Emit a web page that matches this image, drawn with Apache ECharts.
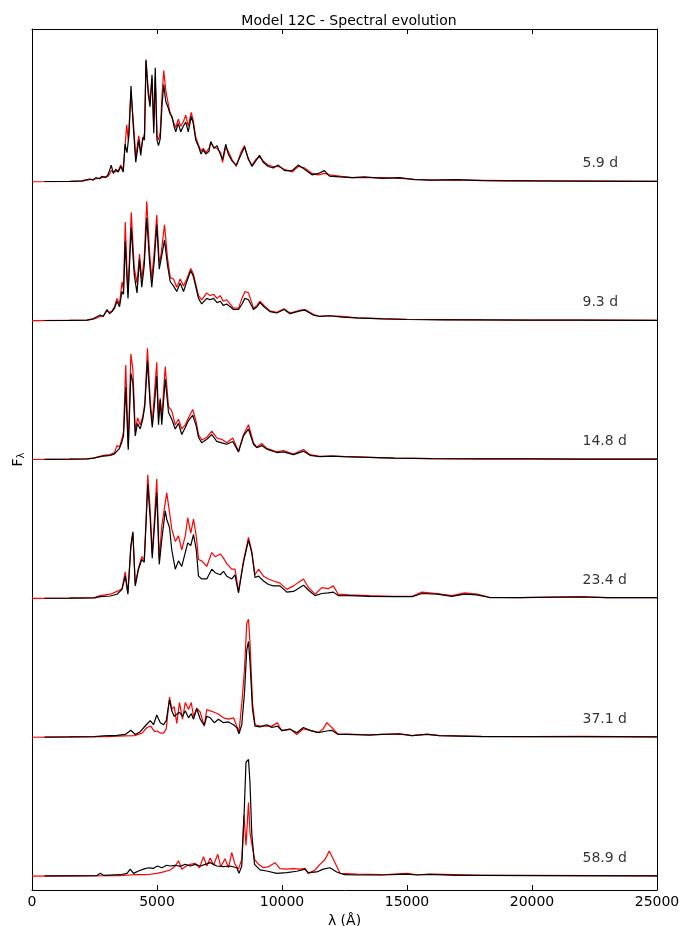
<!DOCTYPE html>
<html>
<head>
<meta charset="utf-8">
<title>Model 12C - Spectral evolution</title>
<script src="https://cdn.jsdelivr.net/npm/echarts/dist/echarts.min.js"></script>
<style>
  html, body { margin: 0; padding: 0; background: #fff; }
  #main { width: 695px; height: 926px; }
</style>
</head>
<body>
<div id="main"></div>
<script>
// wavelength (Å), normalised flux, one pair per feature
const spec59Black = [[500,0.002],[1500,0.003],[2000,0.006],[2300,0.02],[2450,0.012],[2550,0.03],[2700,0.022],[2800,0.04],[2950,0.03],[3050,0.055],[3170,0.12],[3250,0.06],[3350,0.09],[3450,0.07],[3550,0.11],[3650,0.07],[3720,0.27],[3800,0.21],[3880,0.34],[3960,0.69],[4050,0.40],[4150,0.14],[4270,0.30],[4350,0.19],[4430,0.32],[4500,0.30],[4560,0.88],[4650,0.63],[4720,0.54],[4800,0.77],[4870,0.35],[4930,0.82],[5000,0.30],[5060,0.26],[5130,0.31],[5200,0.55],[5270,0.70],[5350,0.58],[5450,0.53],[5520,0.49],[5600,0.47],[5680,0.40],[5750,0.36],[5850,0.42],[5950,0.36],[6050,0.40],[6150,0.43],[6250,0.36],[6370,0.47],[6450,0.42],[6550,0.30],[6650,0.26],[6760,0.20],[6850,0.23],[6950,0.20],[7080,0.22],[7150,0.29],[7280,0.24],[7400,0.26],[7550,0.19],[7620,0.16],[7750,0.27],[7850,0.20],[8000,0.15],[8170,0.12],[8350,0.19],[8500,0.25],[8650,0.17],[8800,0.11],[8950,0.15],[9100,0.19],[9250,0.14],[9450,0.11],[9650,0.10],[9850,0.12],[10100,0.08],[10400,0.08],[10650,0.12],[10900,0.09],[11200,0.05],[11450,0.06],[11700,0.08],[11900,0.04],[12300,0.035],[12800,0.03],[13300,0.035],[14000,0.025],[14700,0.03],[15300,0.015],[16000,0.012],[17000,0.015],[18000,0.008],[19000,0.007],[20000,0.006],[22000,0.004],[25000,0.003]];
const spec59Red = [[0,0],[1500,0.002],[2000,0.004],[2300,0.015],[2550,0.02],[2800,0.03],[3050,0.04],[3170,0.08],[3300,0.07],[3450,0.08],[3550,0.12],[3650,0.09],[3720,0.25],[3790,0.41],[3850,0.30],[3960,0.64],[4050,0.44],[4150,0.18],[4270,0.33],[4350,0.22],[4430,0.30],[4500,0.35],[4560,0.87],[4650,0.66],[4720,0.58],[4800,0.74],[4870,0.40],[4930,0.75],[5000,0.33],[5060,0.30],[5130,0.36],[5200,0.62],[5270,0.80],[5350,0.66],[5450,0.56],[5520,0.50],[5600,0.49],[5680,0.42],[5750,0.39],[5850,0.45],[5950,0.40],[6050,0.43],[6150,0.48],[6250,0.40],[6370,0.50],[6450,0.44],[6550,0.32],[6650,0.27],[6760,0.22],[6850,0.24],[6950,0.21],[7080,0.24],[7150,0.28],[7280,0.25],[7400,0.24],[7550,0.21],[7620,0.14],[7750,0.25],[7850,0.22],[8000,0.16],[8170,0.11],[8350,0.21],[8500,0.26],[8650,0.16],[8800,0.12],[8950,0.16],[9100,0.18],[9250,0.15],[9450,0.12],[9650,0.11],[9850,0.11],[10100,0.09],[10400,0.07],[10650,0.11],[10900,0.10],[11200,0.06],[11450,0.05],[11700,0.06],[11900,0.05],[12300,0.04],[12800,0.03],[13300,0.03],[14000,0.03],[14700,0.025],[15300,0.018],[16000,0.012],[17000,0.012],[18000,0.01],[19000,0.008],[20000,0.006],[22000,0.005],[25000,0.003]];

const spec93Black = [[500,0.001],[1500,0.002],[2200,0.004],[2460,0.015],[2730,0.04],[2850,0.03],[3000,0.08],[3100,0.05],[3200,0.065],[3300,0.09],[3400,0.14],[3500,0.10],[3600,0.21],[3660,0.19],[3730,0.57],[3800,0.30],[3840,0.16],[3900,0.40],[3970,0.67],[4090,0.33],[4200,0.20],[4300,0.44],[4390,0.24],[4490,0.40],[4590,0.74],[4700,0.43],[4790,0.24],[4890,0.43],[4990,0.69],[5090,0.37],[5150,0.43],[5300,0.58],[5420,0.40],[5530,0.28],[5660,0.25],[5790,0.21],[5930,0.27],[6060,0.21],[6190,0.28],[6350,0.36],[6450,0.32],[6530,0.26],[6660,0.16],[6790,0.12],[6990,0.16],[7120,0.15],[7260,0.16],[7400,0.13],[7530,0.14],[7650,0.11],[7790,0.12],[8060,0.08],[8260,0.08],[8400,0.12],[8520,0.16],[8660,0.15],[8860,0.08],[9000,0.10],[9120,0.13],[9280,0.10],[9520,0.065],[9790,0.055],[10080,0.08],[10320,0.05],[10720,0.07],[10920,0.075],[11250,0.04],[11520,0.03],[11900,0.035],[12400,0.025],[13000,0.02],[14000,0.012],[15000,0.008],[16500,0.006],[18000,0.005],[20000,0.004],[22000,0.003],[25000,0.002]];
const spec93Red = [[0,0],[1500,0.002],[2200,0.003],[2460,0.01],[2730,0.03],[2850,0.035],[3000,0.07],[3100,0.06],[3200,0.07],[3300,0.10],[3400,0.16],[3500,0.12],[3600,0.28],[3660,0.22],[3730,0.71],[3800,0.36],[3840,0.20],[3900,0.46],[3970,0.78],[4090,0.38],[4200,0.27],[4300,0.48],[4390,0.30],[4490,0.45],[4590,0.86],[4700,0.50],[4790,0.30],[4890,0.50],[4990,0.76],[5090,0.42],[5150,0.46],[5300,0.69],[5420,0.45],[5530,0.31],[5660,0.30],[5790,0.24],[5930,0.30],[6060,0.25],[6190,0.30],[6350,0.375],[6450,0.34],[6530,0.28],[6660,0.18],[6790,0.15],[6990,0.20],[7120,0.18],[7260,0.19],[7400,0.16],[7530,0.18],[7650,0.14],[7790,0.15],[8060,0.09],[8260,0.09],[8400,0.16],[8520,0.21],[8660,0.20],[8860,0.09],[9000,0.11],[9120,0.14],[9280,0.11],[9520,0.07],[9790,0.06],[10080,0.085],[10320,0.055],[10720,0.075],[10920,0.08],[11250,0.045],[11520,0.03],[11900,0.035],[12400,0.03],[13000,0.02],[14000,0.014],[15000,0.01],[16500,0.007],[18000,0.005],[20000,0.004],[22000,0.003],[25000,0.002]];

const spec148Black = [[500,0.001],[1500,0.002],[2200,0.004],[2460,0.01],[2860,0.025],[3130,0.03],[3300,0.04],[3400,0.06],[3500,0.08],[3600,0.13],[3660,0.17],[3750,0.52],[3850,0.07],[3955,0.62],[4035,0.55],[4130,0.17],[4220,0.26],[4330,0.22],[4430,0.29],[4510,0.38],[4620,0.71],[4730,0.38],[4810,0.23],[4900,0.40],[4990,0.60],[5060,0.25],[5130,0.43],[5190,0.25],[5330,0.58],[5460,0.34],[5590,0.29],[5730,0.22],[5860,0.26],[5990,0.18],[6130,0.23],[6260,0.28],[6430,0.32],[6570,0.24],[6660,0.16],[6790,0.12],[6990,0.145],[7190,0.18],[7390,0.13],[7590,0.12],[7790,0.11],[8030,0.13],[8260,0.055],[8460,0.17],[8660,0.22],[8860,0.11],[8990,0.085],[9190,0.10],[9390,0.075],[9790,0.05],[10060,0.055],[10460,0.035],[10860,0.06],[11120,0.03],[11520,0.02],[12000,0.025],[12500,0.02],[13500,0.015],[14500,0.01],[16000,0.006],[18000,0.005],[20000,0.004],[22000,0.003],[25000,0.002]];
const spec148Red = [[0,0],[1500,0.002],[2200,0.004],[2460,0.01],[2860,0.03],[3130,0.035],[3300,0.05],[3400,0.10],[3500,0.09],[3600,0.15],[3660,0.20],[3750,0.68],[3850,0.09],[3955,0.76],[4035,0.65],[4130,0.20],[4220,0.30],[4330,0.25],[4430,0.31],[4510,0.40],[4620,0.80],[4730,0.42],[4810,0.27],[4900,0.48],[4990,0.70],[5060,0.30],[5130,0.44],[5190,0.30],[5330,0.67],[5460,0.38],[5590,0.35],[5730,0.25],[5860,0.29],[5990,0.22],[6130,0.25],[6260,0.30],[6430,0.36],[6570,0.27],[6660,0.18],[6790,0.14],[6990,0.16],[7190,0.205],[7390,0.155],[7590,0.145],[7790,0.12],[8030,0.155],[8260,0.06],[8460,0.18],[8660,0.25],[8860,0.12],[8990,0.09],[9190,0.115],[9390,0.08],[9790,0.055],[10060,0.065],[10460,0.04],[10860,0.072],[11120,0.035],[11520,0.022],[12000,0.025],[12500,0.02],[13500,0.015],[14500,0.01],[16000,0.007],[18000,0.005],[20000,0.004],[22000,0.003],[25000,0.002]];

const spec234Black = [[500,0.001],[1500,0.002],[2500,0.004],[2730,0.012],[3130,0.017],[3400,0.03],[3600,0.065],[3730,0.16],[3835,0.03],[3955,0.38],[4035,0.48],[4130,0.09],[4260,0.21],[4390,0.28],[4490,0.26],[4570,0.57],[4630,0.82],[4730,0.57],[4810,0.29],[4890,0.50],[4990,0.76],[5090,0.245],[5190,0.42],[5330,0.63],[5390,0.57],[5500,0.51],[5590,0.35],[5730,0.21],[5860,0.27],[5990,0.23],[6130,0.33],[6230,0.40],[6350,0.38],[6460,0.46],[6570,0.35],[6660,0.16],[6790,0.14],[6990,0.14],[7190,0.21],[7330,0.185],[7530,0.17],[7660,0.195],[7790,0.16],[7990,0.14],[8120,0.17],[8260,0.04],[8460,0.26],[8660,0.42],[8790,0.33],[8920,0.15],[9060,0.16],[9260,0.125],[9460,0.10],[9660,0.09],[9920,0.09],[10190,0.045],[10460,0.05],[10860,0.095],[11050,0.06],[11320,0.02],[11590,0.035],[11850,0.04],[12050,0.045],[12250,0.02],[12700,0.02],[13500,0.015],[14500,0.012],[15200,0.012],[15600,0.035],[16200,0.03],[16800,0.015],[17300,0.03],[17800,0.025],[18300,0.006],[19500,0.005],[21000,0.009],[22000,0.01],[23000,0.005],[25000,0.005]];
const spec234Red = [[0,0],[1500,0.002],[2500,0.005],[2730,0.02],[3130,0.03],[3400,0.05],[3600,0.07],[3730,0.19],[3835,0.04],[3955,0.37],[4035,0.47],[4130,0.10],[4260,0.22],[4390,0.30],[4490,0.28],[4570,0.60],[4630,0.89],[4730,0.63],[4810,0.32],[4890,0.55],[4990,0.86],[5090,0.28],[5190,0.52],[5330,0.69],[5390,0.76],[5500,0.62],[5590,0.50],[5730,0.41],[5860,0.45],[5990,0.35],[6130,0.45],[6230,0.58],[6350,0.47],[6460,0.57],[6570,0.45],[6660,0.28],[6790,0.27],[6990,0.23],[7190,0.33],[7330,0.30],[7530,0.32],[7660,0.29],[7790,0.25],[7990,0.21],[8120,0.21],[8260,0.05],[8460,0.27],[8660,0.44],[8790,0.34],[8920,0.17],[9060,0.21],[9260,0.16],[9460,0.14],[9660,0.125],[9920,0.11],[10190,0.065],[10460,0.09],[10860,0.14],[11050,0.08],[11320,0.03],[11590,0.077],[11850,0.07],[12050,0.09],[12250,0.03],[12700,0.025],[13500,0.02],[14500,0.015],[15200,0.015],[15600,0.045],[16200,0.035],[16800,0.02],[17300,0.04],[17800,0.03],[18300,0.008],[19500,0.006],[21000,0.01],[22000,0.012],[23000,0.006],[25000,0.005]];

const spec371Black = [[500,0.001],[1500,0.002],[2500,0.004],[2860,0.01],[3400,0.014],[3730,0.02],[3955,0.05],[4130,0.02],[4330,0.04],[4570,0.09],[4730,0.12],[4860,0.09],[4990,0.16],[5130,0.105],[5260,0.09],[5370,0.12],[5500,0.27],[5590,0.19],[5690,0.15],[5790,0.165],[5900,0.18],[6020,0.15],[6130,0.19],[6260,0.14],[6370,0.17],[6460,0.13],[6590,0.205],[6730,0.13],[6890,0.085],[6990,0.15],[7130,0.14],[7290,0.105],[7460,0.13],[7660,0.105],[7860,0.11],[8060,0.09],[8190,0.07],[8280,0.025],[8390,0.09],[8500,0.32],[8590,0.63],[8660,0.69],[8720,0.54],[8820,0.20],[8920,0.08],[9120,0.075],[9390,0.09],[9590,0.07],[9815,0.08],[9990,0.05],[10320,0.057],[10590,0.033],[10855,0.07],[11120,0.05],[11450,0.033],[11790,0.045],[11990,0.05],[12250,0.02],[12600,0.02],[13500,0.015],[14000,0.02],[14700,0.025],[15200,0.012],[15800,0.02],[16300,0.012],[18000,0.005],[20000,0.004],[22000,0.005],[25000,0.002]];
const spec371Red = [[0,0],[1500,0.002],[3000,0.005],[3700,0.01],[4100,0.012],[4400,0.03],[4600,0.07],[4750,0.08],[4900,0.04],[5000,0.045],[5130,0.03],[5260,0.03],[5370,0.06],[5500,0.29],[5590,0.20],[5690,0.22],[5790,0.10],[5900,0.25],[6020,0.13],[6130,0.25],[6260,0.20],[6370,0.25],[6460,0.15],[6590,0.21],[6730,0.18],[6890,0.08],[6990,0.20],[7130,0.19],[7290,0.18],[7460,0.165],[7660,0.14],[7860,0.13],[8060,0.14],[8190,0.08],[8280,0.04],[8390,0.24],[8500,0.49],[8590,0.82],[8660,0.85],[8720,0.68],[8820,0.25],[8920,0.09],[9120,0.08],[9390,0.08],[9590,0.08],[9815,0.105],[9990,0.045],[10320,0.06],[10590,0.02],[10855,0.06],[11120,0.05],[11450,0.035],[11650,0.06],[11790,0.105],[11990,0.07],[12250,0.02],[12600,0.022],[13500,0.018],[14000,0.02],[14700,0.022],[15200,0.012],[15800,0.022],[16300,0.012],[18000,0.006],[20000,0.005],[22000,0.006],[25000,0.002]];

const spec589Black = [[500,0.001],[1500,0.002],[2600,0.004],[2730,0.02],[2860,0.006],[3530,0.01],[3800,0.02],[3930,0.05],[4060,0.02],[4260,0.037],[4460,0.05],[4660,0.06],[4860,0.056],[5020,0.073],[5190,0.06],[5390,0.078],[5530,0.073],[5730,0.078],[5930,0.07],[6130,0.085],[6330,0.073],[6530,0.085],[6730,0.073],[6930,0.085],[7130,0.097],[7390,0.073],[7660,0.068],[7920,0.073],[8190,0.06],[8280,0.02],[8390,0.073],[8480,0.43],[8560,0.82],[8660,0.84],[8720,0.67],[8790,0.31],[8900,0.085],[9120,0.045],[9390,0.037],[9790,0.02],[10190,0.025],[10590,0.035],[10920,0.05],[11050,0.025],[11390,0.03],[11650,0.05],[11920,0.06],[12190,0.03],[12500,0.01],[13000,0.008],[14000,0.008],[15000,0.015],[15400,0.008],[15900,0.012],[17000,0.006],[18000,0.005],[20000,0.004],[25000,0.002]];
const spec589Red = [[0,0],[1500,0.002],[3500,0.004],[4060,0.01],[4590,0.01],[4990,0.02],[5260,0.03],[5530,0.044],[5730,0.073],[5860,0.11],[5990,0.05],[6170,0.073],[6330,0.085],[6530,0.092],[6700,0.06],[6860,0.14],[6990,0.073],[7130,0.13],[7260,0.078],[7430,0.157],[7550,0.068],[7720,0.125],[7860,0.06],[7990,0.17],[8120,0.085],[8260,0.05],[8390,0.12],[8480,0.44],[8560,0.22],[8660,0.53],[8720,0.31],[8790,0.32],[8900,0.12],[9060,0.085],[9260,0.06],[9460,0.068],[9720,0.097],[9920,0.054],[10190,0.05],[10460,0.054],[10720,0.05],[10920,0.056],[11050,0.018],[11320,0.044],[11520,0.085],[11720,0.12],[11890,0.18],[11990,0.145],[12120,0.097],[12320,0.02],[13000,0.015],[14000,0.01],[15000,0.02],[15400,0.01],[15900,0.015],[17000,0.01],[18000,0.005],[20000,0.005],[25000,0.002]];

const epochLabels = ['5.9 d', '9.3 d', '14.8 d', '23.4 d', '37.1 d', '58.9 d'];
const offsets = [5, 4, 3, 2, 1, 0];
const xTicks = [0, 5000, 10000, 15000, 20000, 25000];

const FONT = 'DejaVu Sans';
const panels = [
  [spec59Red, spec59Black],
  [spec93Red, spec93Black],
  [spec148Red, spec148Black],
  [spec234Red, spec234Black],
  [spec371Red, spec371Black],
  [spec589Red, spec589Black]
];

const series = [];
panels.forEach(function (p, i) {
  const off = offsets[i];
  series.push({
    type: 'line', name: 'red' + i, showSymbol: false, symbol: 'none', silent: true, z: 2,
    lineStyle: { color: '#ff0000', width: 1.2 },
    data: p[0].map(function (d) { return [d[0], d[1] + off]; })
  });
  series.push({
    type: 'line', name: 'black' + i, showSymbol: false, symbol: 'none', silent: true, z: 3,
    lineStyle: { color: '#000000', width: 1.2 },
    data: p[1].map(function (d) { return [d[0], d[1] + off]; })
  });
});
// epoch labels sit just above each baseline
series.push({
  type: 'scatter', silent: true, symbolSize: 1, z: 4,
  itemStyle: { color: 'rgba(0,0,0,0)' },
  label: {
    show: true, position: 'right', distance: 0, formatter: '{b}',
    color: '#000', fontFamily: FONT, fontSize: 14
  },
  data: epochLabels.map(function (t, i) { return { name: t, value: [22000, offsets[i] + 0.13] }; })
});

const axisLine = { show: true, onZero: false, lineStyle: { color: '#000', width: 1 } };
const tick = { show: true, inside: true, length: 5, lineStyle: { color: '#000' } };

const chart = echarts.init(document.getElementById('main'));
chart.setOption({
  animation: false,
  backgroundColor: '#fff',
  title: {
    text: 'Model 12C - Spectral evolution',
    left: 344, top: 9, textAlign: 'center',
    textStyle: { fontFamily: FONT, fontSize: 14, fontWeight: 'normal', color: '#000' }
  },
  grid: { left: 32, right: 38, top: 29, bottom: 36, containLabel: false, outerBoundsMode: 'none' },
  xAxis: [{
    type: 'value', min: 0, max: 25000, interval: 5000, position: 'bottom',
    axisLine: axisLine, axisTick: tick,
    axisLabel: { color: '#000', fontFamily: FONT, fontSize: 14, margin: 5,
      formatter: function (v) { return xTicks.indexOf(v) >= 0 ? String(v) : ''; } },
    splitLine: { show: false },
    name: 'λ (Å)', nameLocation: 'middle', nameGap: 21,
    nameTextStyle: { color: '#000', fontFamily: FONT, fontSize: 14 }
  }, {
    type: 'value', min: 0, max: 25000, interval: 5000, position: 'top',
    axisLine: axisLine, axisTick: tick,
    axisLabel: { show: false }, splitLine: { show: false }
  }],
  yAxis: [{
    type: 'value', min: -0.1, max: 6.1, position: 'left',
    axisLine: axisLine, axisTick: { show: false }, axisLabel: { show: false }, splitLine: { show: false },
    name: '{f|F}{s|λ}', nameLocation: 'middle', nameGap: 6, nameRotate: 90,
    nameTextStyle: {
      rich: {
        f: { color: '#000', fontFamily: FONT, fontSize: 14 },
        s: { color: '#000', fontFamily: FONT, fontSize: 10, verticalAlign: 'bottom', padding: [6, 0, 0, 0] }
      }
    }
  }, {
    type: 'value', min: -0.1, max: 6.1, position: 'right',
    axisLine: axisLine, axisTick: { show: false }, axisLabel: { show: false }, splitLine: { show: false }
  }],
  series: series
});
</script>
</body>
</html>
